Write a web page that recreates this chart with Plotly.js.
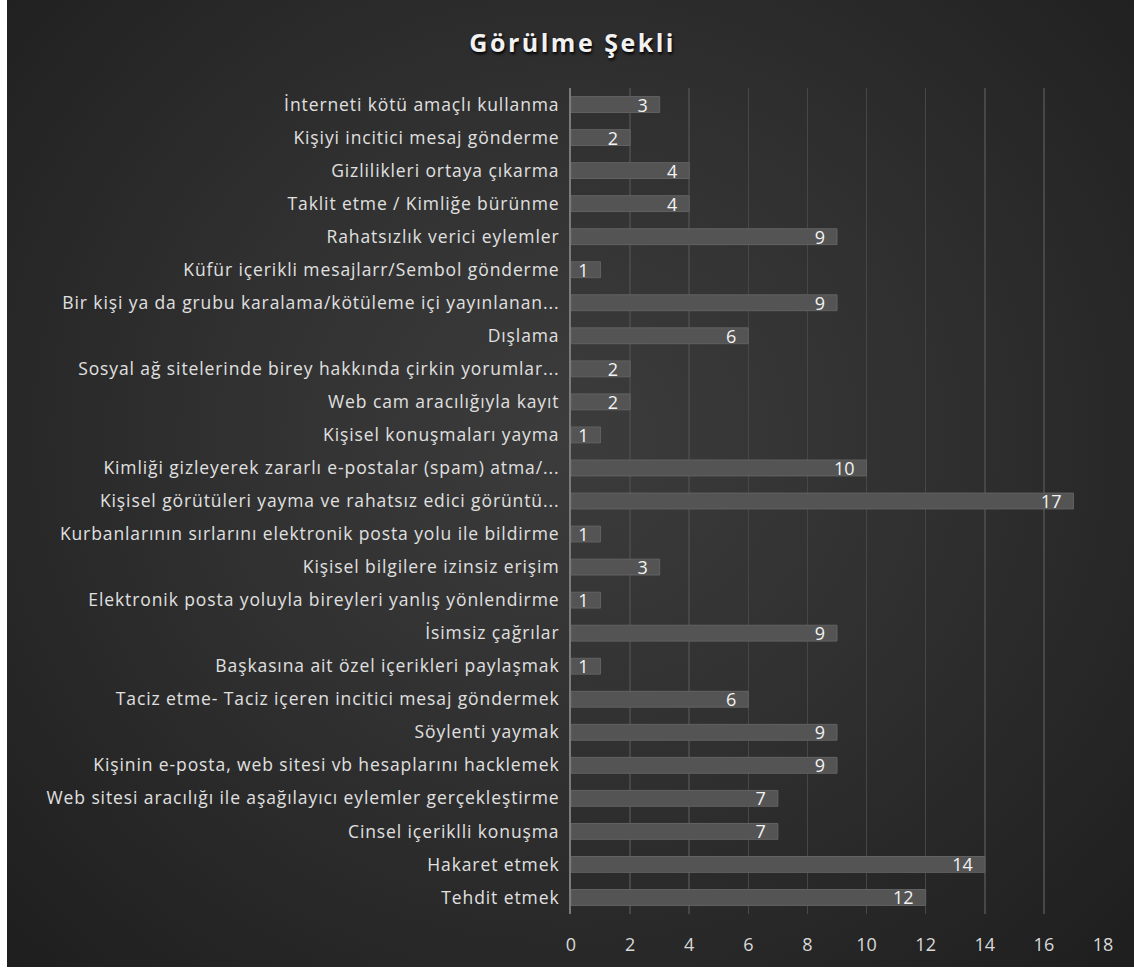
<!DOCTYPE html>
<html>
<head>
<meta charset="utf-8">
<script src="https://cdn.plot.ly/plotly-3.0.1.min.js"></script>
<style>
  html, body { margin: 0; padding: 0; background: #ffffff; }
  #bg { position: absolute; left: 7px; top: 0; width: 1127px; height: 967px;
        background: radial-gradient(ellipse at 50% 45%, #3c3c3c 0%, #303030 45%, #1e1e1e 100%); }
  #chart { position: absolute; left: 0; top: 0; width: 1134px; height: 970px; }
  .gtitle { letter-spacing: 2.5px; }
  .ytick text { letter-spacing: 0.9px; }
</style>
</head>
<body>
<div id="bg"></div>
<div id="chart"></div>
<script>
const categories = [
  "İnterneti kötü amaçlı kullanma",
  "Kişiyi incitici mesaj gönderme",
  "Gizlilikleri ortaya çıkarma",
  "Taklit etme / Kimliğe bürünme",
  "Rahatsızlık verici eylemler",
  "Küfür içerikli mesajlarr/Sembol gönderme",
  "Bir kişi ya da grubu karalama/kötüleme içi yayınlanan...",
  "Dışlama",
  "Sosyal ağ sitelerinde birey hakkında çirkin yorumlar...",
  "Web cam aracılığıyla kayıt",
  "Kişisel konuşmaları yayma",
  "Kimliği gizleyerek zararlı e-postalar (spam) atma/...",
  "Kişisel görütüleri yayma ve rahatsız edici görüntü...",
  "Kurbanlarının sırlarını elektronik posta yolu ile bildirme",
  "Kişisel bilgilere izinsiz erişim",
  "Elektronik posta yoluyla bireyleri yanlış yönlendirme",
  "İsimsiz çağrılar",
  "Başkasına ait özel içerikleri paylaşmak",
  "Taciz etme- Taciz içeren incitici mesaj göndermek",
  "Söylenti yaymak",
  "Kişinin e-posta, web sitesi vb hesaplarını hacklemek",
  "Web sitesi aracılığı ile aşağılayıcı eylemler gerçekleştirme",
  "Cinsel içeriklli konuşma",
  "Hakaret etmek",
  "Tehdit etmek"
];
const values = [3, 2, 4, 4, 9, 1, 9, 6, 2, 2, 1, 10, 17, 1, 3, 1, 9, 1, 6, 9, 9, 7, 7, 14, 12];
const xTicks = [0, 2, 4, 6, 8, 10, 12, 14, 16, 18];

const trace = {
  type: 'bar',
  orientation: 'h',
  y: categories,
  x: values,
  text: values.map(v => String(v) + '\u2002'),
  textposition: 'inside',
  insidetextanchor: 'end',
  textangle: 0,
  constraintext: 'none',
  cliponaxis: false,
  textfont: { family: 'Open Sans, sans-serif', size: 18, color: '#f2f2f2' },
  marker: { color: '#545454', line: { color: '#626262', width: 1 } },
  hoverinfo: 'x+y'
};

const layout = {
  width: 1134,
  height: 970,
  paper_bgcolor: 'rgba(0,0,0,0)',
  plot_bgcolor: 'rgba(0,0,0,0)',
  margin: { l: 571, r: 31, t: 88, b: 56 },
  bargap: 0.52,
  showlegend: false,
  title: {
    text: 'Görülme Şekli',
    x: 0.505, xref: 'container', xanchor: 'center',
    y: 0.955, yref: 'container', yanchor: 'middle',
    font: { family: 'Open Sans, sans-serif', size: 25, weight: 700, color: '#f2f2f2',
            shadow: '1px 2px 3px #000' }
  },
  xaxis: {
    range: [0, 18],
    tickvals: xTicks,
    ticktext: xTicks.map(String),
    showgrid: true,
    gridcolor: '#474747',
    gridwidth: 1.5,
    zeroline: false,
    showline: false,
    ticks: '',
    ticklabelstandoff: 18,
    tickfont: { family: 'Open Sans, sans-serif', size: 18, color: '#d9d9d9' },
    fixedrange: true
  },
  yaxis: {
    type: 'category',
    autorange: 'reversed',
    showgrid: false,
    zeroline: false,
    showline: true,
    linecolor: '#7a7a7a',
    linewidth: 2,
    ticks: '',
    ticklabelstandoff: 6,
    tickfont: { family: 'Open Sans, sans-serif', size: 17.5, color: '#e0e0e0' },
    fixedrange: true
  }
};

Plotly.newPlot('chart', [trace], layout, { displayModeBar: false, staticPlot: true });
</script>
</body>
</html>
